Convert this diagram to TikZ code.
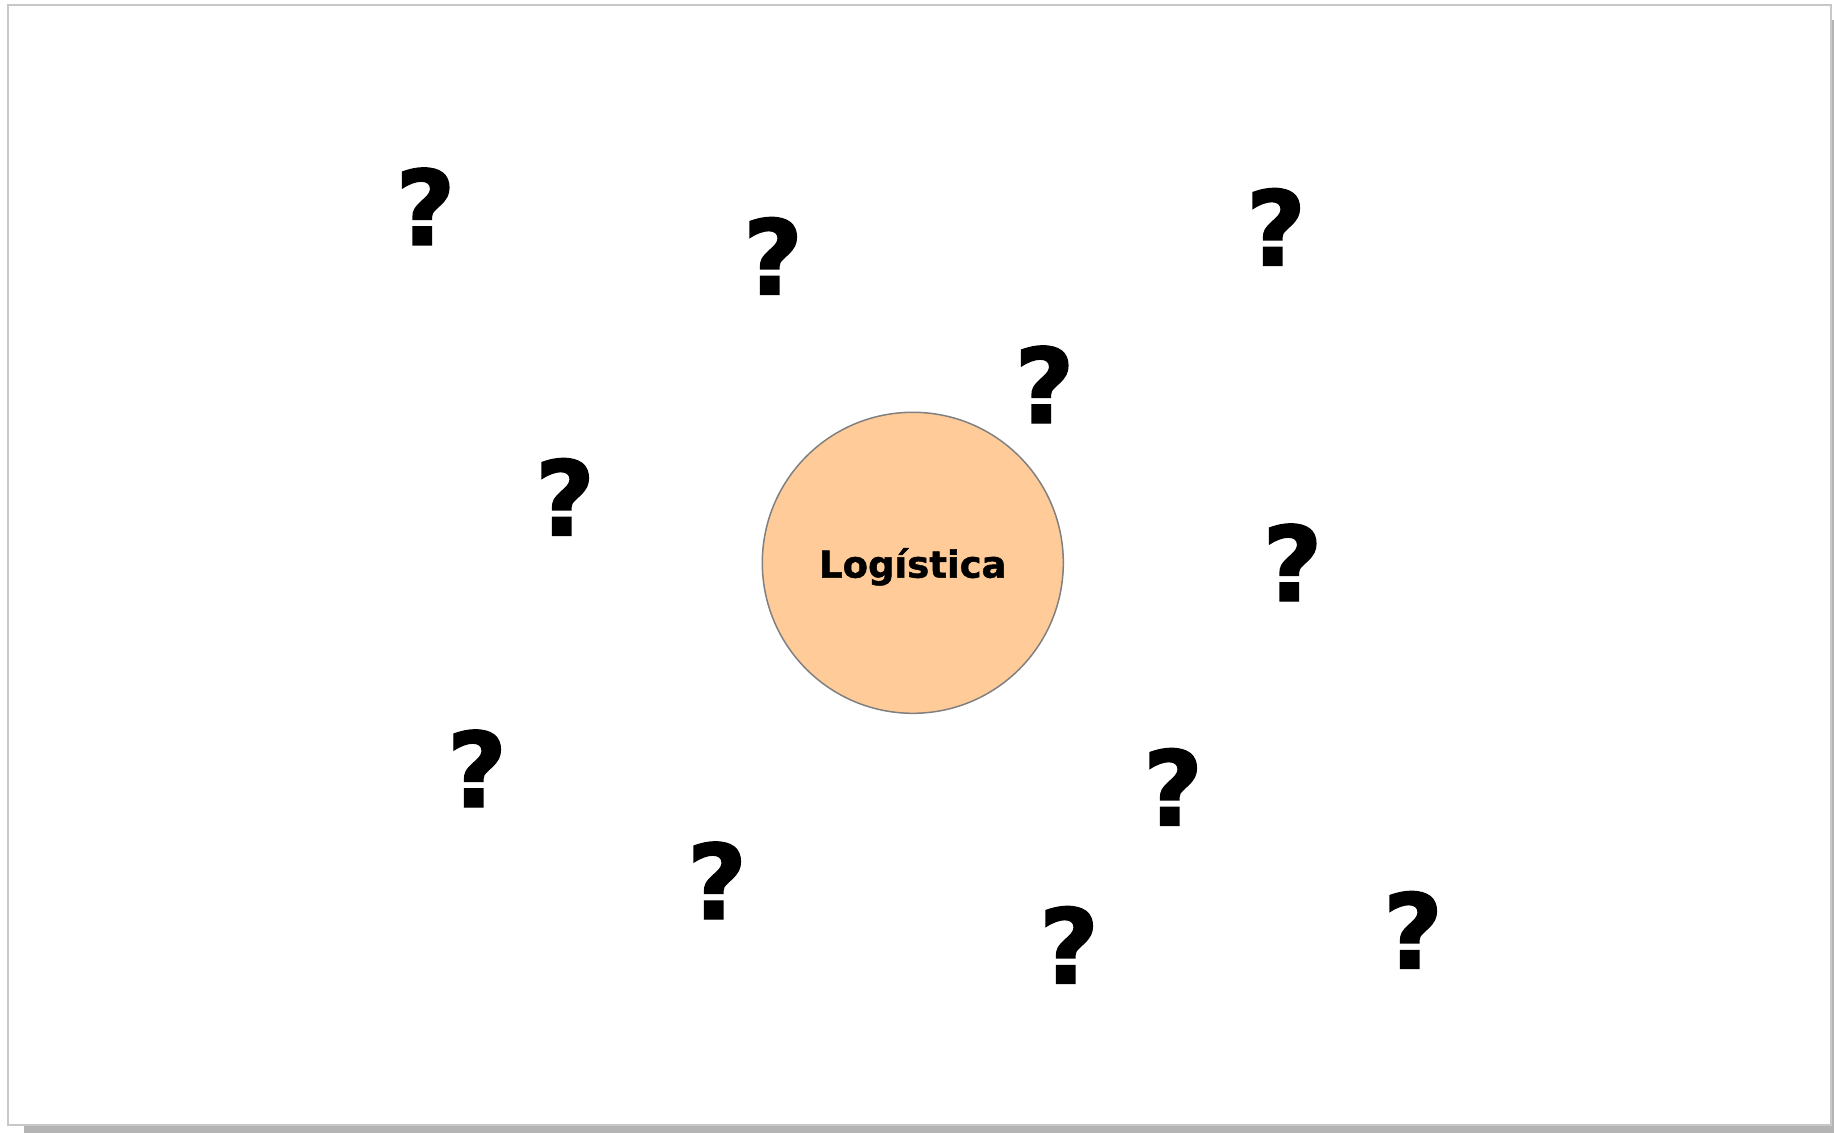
\documentclass[tikz,border=0pt]{standalone}
\usepackage{fontspec}
\setmainfont{DejaVu Sans}[BoldFeatures={FakeBold=1.3}]
\usetikzlibrary{positioning}
\definecolor{peach}{HTML}{FFCC99}
\definecolor{framegray}{HTML}{C8C8C8}
\definecolor{shadowgray}{HTML}{B4B4B4}
\def\circlecolor{peach}
\def\edgecolor{gray}
\def\qsize{52}
\newcommand{\qmark}[3]{%
  \node[qmark](#1) at(#2,#3){?};
}

\begin{document}
\begin{tikzpicture}[x=0.5pt,y=-0.5pt,
    qmark/.style={
        anchor=base,
        inner sep=0pt,
        font=\bfseries\fontsize{\qsize}{\qsize}\selectfont
      },
    topic/.style={
        circle,
        draw=\edgecolor,
        fill=\circlecolor,
        line width=0.75pt,
        minimum size=150.5pt,
        inner sep=0pt,
        text depth=0pt,
        font=\bfseries\fontsize{18.5}{18.5}\selectfont
      }]
  \useasboundingbox (0,0) rectangle (1834,1133);
  % page and its shadow
  \fill[shadowgray] (24,20) rectangle (1834,1133);
  \filldraw[fill=white, draw=framegray, line width=1pt] (8,5) rectangle (1831,1125);

  % centre
  \node[topic](logistica) at(912.8,562.8){Logística};

  % question marks round it
  \qmark{q1}{425.5}{245}
  \qmark{q2}{773}{294.5}
  \qmark{q3}{1276}{265.5}
  \qmark{q4}{1044.5}{423}
  \qmark{q5}{565}{535.5}
  \qmark{q6}{1292.5}{601}
  \qmark{q7}{477}{807}
  \qmark{q8}{1173}{825.5}
  \qmark{q9}{717}{919}
  \qmark{q10}{1069}{983.5}
  \qmark{q11}{1413}{968.5}

\end{tikzpicture}
\end{document}
